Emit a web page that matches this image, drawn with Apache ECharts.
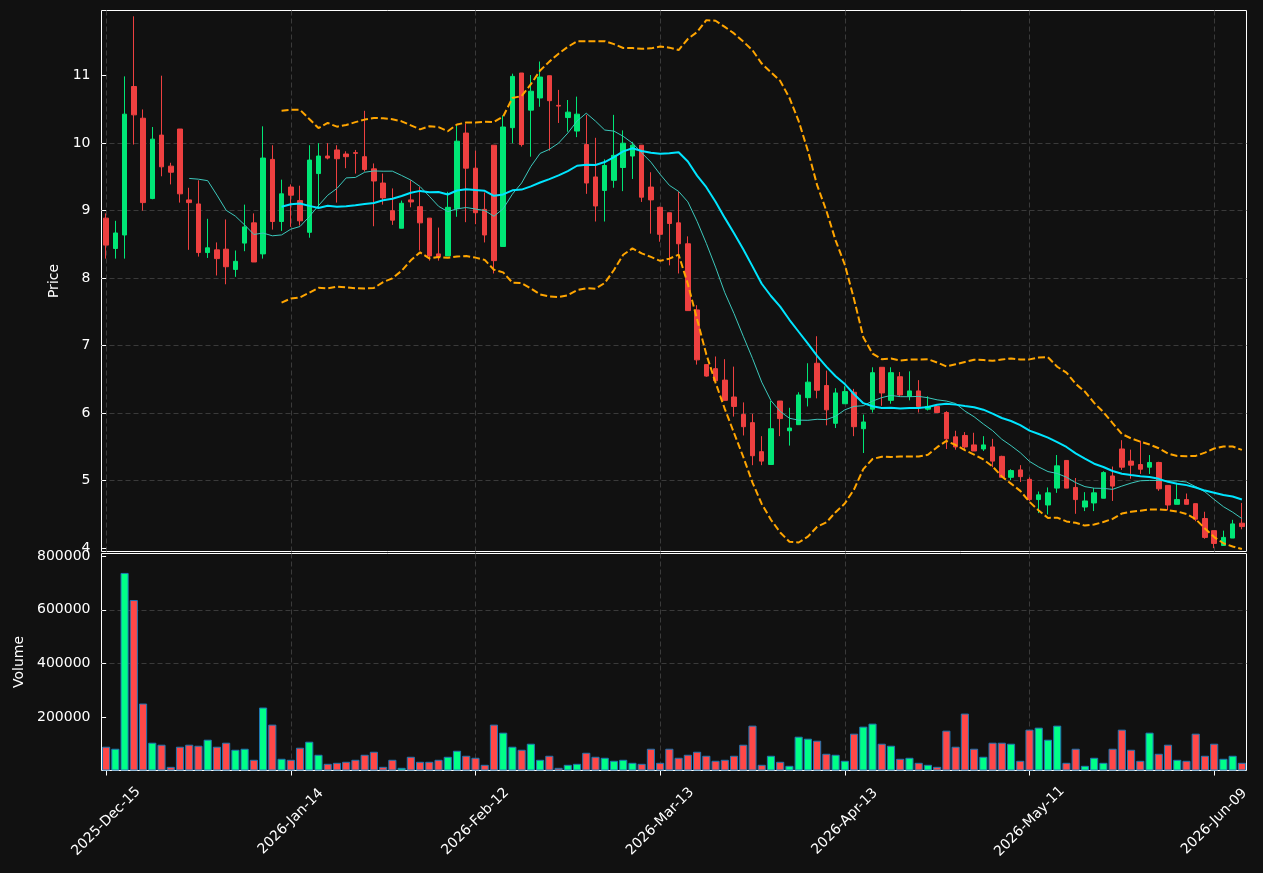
<!DOCTYPE html>
<html>
  <head>
    <meta charset="utf-8" />
    <script src="https://cdn.jsdelivr.net/npm/echarts@6/dist/echarts.min.js"></script>
    <style>
      html, body { margin: 0; background: #111111; }
    </style>
  </head>
  <body>
    <div id="main" style="width: 1263px; height: 873px"></div>

    <script type="text/javascript">
      // trading days (NYSE calendar)
      const dates = [
        "2025-Dec-15","2025-Dec-16","2025-Dec-17","2025-Dec-18","2025-Dec-19","2025-Dec-22","2025-Dec-23","2025-Dec-24","2025-Dec-26","2025-Dec-29","2025-Dec-30","2025-Dec-31",
        "2026-Jan-02","2026-Jan-05","2026-Jan-06","2026-Jan-07","2026-Jan-08","2026-Jan-09","2026-Jan-12","2026-Jan-13","2026-Jan-14","2026-Jan-15","2026-Jan-16","2026-Jan-20","2026-Jan-21","2026-Jan-22","2026-Jan-23","2026-Jan-26","2026-Jan-27","2026-Jan-28","2026-Jan-29","2026-Jan-30",
        "2026-Feb-02","2026-Feb-03","2026-Feb-04","2026-Feb-05","2026-Feb-06","2026-Feb-09","2026-Feb-10","2026-Feb-11","2026-Feb-12","2026-Feb-13","2026-Feb-17","2026-Feb-18","2026-Feb-19","2026-Feb-20","2026-Feb-23","2026-Feb-24","2026-Feb-25","2026-Feb-26","2026-Feb-27",
        "2026-Mar-02","2026-Mar-03","2026-Mar-04","2026-Mar-05","2026-Mar-06","2026-Mar-09","2026-Mar-10","2026-Mar-11","2026-Mar-12","2026-Mar-13","2026-Mar-16","2026-Mar-17","2026-Mar-18","2026-Mar-19","2026-Mar-20","2026-Mar-23","2026-Mar-24","2026-Mar-25","2026-Mar-26","2026-Mar-27","2026-Mar-30","2026-Mar-31",
        "2026-Apr-01","2026-Apr-02","2026-Apr-06","2026-Apr-07","2026-Apr-08","2026-Apr-09","2026-Apr-10","2026-Apr-13","2026-Apr-14","2026-Apr-15","2026-Apr-16","2026-Apr-17","2026-Apr-20","2026-Apr-21","2026-Apr-22","2026-Apr-23","2026-Apr-24","2026-Apr-27","2026-Apr-28","2026-Apr-29","2026-Apr-30",
        "2026-May-01","2026-May-04","2026-May-05","2026-May-06","2026-May-07","2026-May-08","2026-May-11","2026-May-12","2026-May-13","2026-May-14","2026-May-15","2026-May-18","2026-May-19","2026-May-20","2026-May-21","2026-May-22","2026-May-26","2026-May-27","2026-May-28","2026-May-29",
        "2026-Jun-01","2026-Jun-02","2026-Jun-03","2026-Jun-04","2026-Jun-05","2026-Jun-08","2026-Jun-09","2026-Jun-10","2026-Jun-11","2026-Jun-12"
      ];

      const opens = [
        8.89,8.44,8.64,10.84,10.37,9.18,10.12,9.66,10.21,9.16,
        9.10,8.38,8.42,8.43,8.13,8.52,8.82,8.36,9.76,8.84,
        9.35,9.15,8.68,9.55,9.81,9.90,9.84,9.86,9.80,9.62,
        9.41,9.00,8.74,9.16,9.06,8.89,8.36,8.33,9.03,10.15,
        9.63,9.02,9.97,8.47,10.23,11.04,10.49,10.67,11.00,10.56,
        10.38,10.18,9.98,9.50,9.30,9.45,9.64,9.81,9.97,9.35,
        9.05,8.97,8.82,8.51,7.53,6.72,6.66,6.49,6.24,5.98,
        5.86,5.43,5.24,6.18,5.74,5.83,6.23,6.74,6.41,5.85,
        6.14,6.31,5.77,6.06,6.68,6.19,6.54,6.25,6.33,6.06,
        6.10,6.01,5.65,5.67,5.53,5.47,5.50,5.36,5.05,5.16,
        5.02,4.72,4.64,4.89,5.30,4.90,4.61,4.67,4.74,5.07,
        5.47,5.29,5.24,5.20,5.27,4.93,4.65,4.72,4.66,4.44,
        4.26,4.04,4.15,4.37
      ];
      const closes = [
        8.49,8.67,10.43,10.42,9.12,10.06,9.65,9.57,9.25,9.12,
        8.38,8.45,8.29,8.17,8.25,8.76,8.24,9.78,8.84,9.25,
        9.23,8.85,9.75,9.81,9.78,9.77,9.80,9.85,9.61,9.44,
        9.19,8.86,9.11,9.13,8.82,8.33,8.32,9.05,10.03,9.63,
        8.97,8.64,8.26,10.24,10.99,9.98,10.77,10.98,10.63,10.55,
        10.46,10.43,9.41,9.07,9.67,9.82,10.00,9.97,9.20,9.16,
        8.65,8.81,8.51,7.52,6.79,6.55,6.48,6.19,6.10,5.80,
        5.37,5.29,5.77,5.92,5.78,6.27,6.46,6.34,6.05,6.30,
        6.32,5.80,5.87,6.60,6.30,6.60,6.27,6.33,6.10,6.10,
        6.01,5.62,5.50,5.50,5.44,5.53,5.29,5.05,5.15,5.06,
        4.72,4.79,4.82,5.22,4.89,4.72,4.70,4.82,5.12,4.92,
        5.20,5.23,5.17,5.27,4.88,4.64,4.72,4.65,4.43,4.16,
        4.07,4.16,4.36,4.32
      ];
      const lows = [
        8.29,8.29,8.29,9.98,9.00,9.17,9.51,9.39,9.12,8.42,
        8.32,8.30,8.04,7.91,8.02,8.40,8.24,8.29,8.72,8.70,
        8.76,8.78,8.60,9.05,9.76,9.12,9.63,9.55,9.58,8.77,
        9.09,8.79,8.74,9.05,8.41,8.26,8.26,8.33,8.91,8.83,
        8.80,8.53,8.07,8.47,10.00,9.95,9.80,10.54,9.89,10.30,
        10.17,10.09,9.25,8.84,8.84,9.34,9.29,9.47,9.13,8.66,
        8.54,8.19,8.07,7.52,6.72,6.54,6.48,6.19,5.95,5.67,
        5.23,5.23,5.24,5.66,5.52,5.83,6.10,6.22,5.82,5.78,
        6.14,5.66,5.41,6.01,6.11,6.14,6.25,6.19,6.01,6.04,
        6.01,5.47,5.46,5.44,5.44,5.44,5.20,5.05,5.01,4.98,
        4.70,4.52,4.50,4.82,4.89,4.51,4.55,4.55,4.74,4.70,
        5.16,5.03,5.10,5.10,4.85,4.56,4.65,4.65,4.40,4.14,
        4.00,4.04,4.15,4.28
      ];
      const highs = [
        8.96,8.85,10.99,11.88,10.50,10.24,11.00,9.71,10.21,9.34,
        9.45,8.88,8.53,8.87,8.41,9.09,8.96,10.25,9.97,9.46,
        9.39,9.37,9.97,10.00,10.00,9.97,9.88,9.90,10.48,9.70,
        9.55,9.33,9.15,9.45,9.35,8.89,8.75,9.28,10.26,10.29,
        9.89,9.27,9.97,10.41,11.03,11.04,11.01,11.21,11.00,10.79,
        10.64,10.69,10.42,10.08,9.76,10.42,10.19,10.02,9.97,9.57,
        9.06,8.97,9.28,8.62,7.60,6.72,6.84,6.80,6.69,6.16,
        5.99,5.66,6.18,6.18,6.08,6.31,6.74,7.14,6.63,6.37,
        6.40,6.36,5.98,6.68,6.68,6.68,6.61,6.62,6.49,6.25,
        6.10,6.03,5.74,5.72,5.71,5.66,5.62,5.37,5.17,5.23,
        5.05,4.84,4.90,5.38,5.30,5.04,4.83,4.89,5.14,5.21,
        5.60,5.46,5.59,5.38,5.28,4.93,4.95,4.81,4.66,4.54,
        4.26,4.26,4.42,4.67
      ];
      const volumes = [
        88750,81250,737500,636250,250000,103750,96250,13750,88750,96250,
        92500,115000,88750,103750,77500,81250,40000,235000,171250,43750,
        40000,85000,107500,58750,25000,28750,32500,40000,58750,70000,
        13750,40000,10000,51250,32500,32500,40000,51250,73750,55000,
        47500,21250,171250,141250,88750,77500,100000,40000,55000,10000,
        21250,25000,66250,51250,47500,36250,40000,28750,25000,81250,
        28750,81250,47500,58750,70000,55000,36250,40000,55000,96250,
        167500,21250,55000,32500,17500,126250,118750,111250,62500,58750,
        36250,137500,163750,175000,100000,92500,43750,47500,28750,21250,
        13750,148750,88750,212500,81250,51250,103750,103750,100000,36250,
        152500,160000,115000,167500,28750,81250,17500,47500,28750,81250,
        152500,77500,36250,141250,62500,96250,40000,36250,137500,55000,
        100000,43750,55000,28750
      ];

      const priceTicks = [4, 5, 6, 7, 8, 9, 10, 11];
      const volumeTicks = [200000, 400000, 600000, 800000];
      const dateTicks = [0, 20, 40, 60, 80, 100, 120];

      const UP = "#00e676";
      const DOWN = "#ee4040";
      const VOL_UP = "#00ff88";
      const VOL_DOWN = "#ff4848";
      const FONT = "DejaVu Sans";

      // rolling mean / bands over closes
      function sma(values, n) {
        return values.map((v, i) => {
          if (i < n - 1) return "-";
          let s = 0;
          for (let k = i - n + 1; k <= i; k++) s += values[k];
          return s / n;
        });
      }
      function bollinger(values, n, mult, sign) {
        const mid = sma(values, n);
        return values.map((v, i) => {
          if (i < n - 1) return "-";
          let s = 0;
          for (let k = i - n + 1; k <= i; k++) s += (values[k] - mid[i]) ** 2;
          return mid[i] + sign * mult * Math.sqrt(s / n);
        });
      }

      const n = dates.length;
      const candles = opens.map((o, i) => [o, closes[i], lows[i], highs[i]]);
      const volBars = volumes.map((v, i) => ({
        value: v,
        itemStyle: { color: closes[i] >= opens[i] ? VOL_UP : VOL_DOWN },
      }));

      const gridLine = { show: true, lineStyle: { color: "#3a3a3a", type: [5, 3], width: 1 }, showMinLine: false, showMaxLine: false };
      const isInt = (v) => Math.abs(v - Math.round(v)) < 1e-6;

      var option = {
        backgroundColor: "#111111",
        animation: false,
        textStyle: { fontFamily: FONT },
        grid: [
          { left: 101.5, right: 16.5, top: 10.5, height: 541, show: true, borderColor: "#ffffff", borderWidth: 1, backgroundColor: "#111111" },
          { left: 101.5, right: 16.5, top: 553.5, height: 217, show: true, borderColor: "#ffffff", borderWidth: 1, backgroundColor: "#111111" },
        ],
        xAxis: [
          { type: "category", gridIndex: 0, position: "bottom", data: dates, show: false },
          {
            type: "value", gridIndex: 0, position: "bottom", min: -0.5, max: n - 0.5, splitNumber: 6,
            axisLine: { show: false }, axisTick: { show: false }, axisLabel: { show: false },
            splitLine: gridLine,
          },
          { type: "category", gridIndex: 1, position: "bottom", data: dates, show: false },
          {
            type: "value", gridIndex: 1, position: "bottom", min: -0.5, max: n - 0.5, splitNumber: 6,
            axisLine: { show: false },
            axisTick: { show: true, length: 5, lineStyle: { color: "#ffffff" }, customValues: dateTicks },
            axisLabel: {
              customValues: dateTicks,
              rotate: 45, align: "center", verticalAlign: "middle", margin: 51,
              color: "#ffffff", fontSize: 14, fontFamily: FONT,
              formatter: (v) => (isInt(v) && dates[Math.round(v)] ? dates[Math.round(v)] : ""),
            },
            splitLine: gridLine,
          },
        ],
        yAxis: [
          {
            type: "value", gridIndex: 0, min: 3.951, max: 11.966, splitNumber: 8,
            axisLine: { show: false },
            axisTick: { show: true, length: 4, lineStyle: { color: "#ffffff" }, customValues: priceTicks },
            axisLabel: {
              customValues: priceTicks, color: "#ffffff", fontSize: 14, fontFamily: FONT, margin: 11,
              formatter: (v) => (isInt(v) ? String(Math.round(v)) : ""),
            },
            splitLine: gridLine,
            name: "Price", nameLocation: "middle", nameGap: 33,
            nameTextStyle: { color: "#ffffff", fontSize: 14, fontFamily: FONT },
          },
          {
            type: "value", gridIndex: 1, min: 0, max: 810000, splitNumber: 4,
            axisLine: { show: false },
            axisTick: { show: true, length: 4, lineStyle: { color: "#ffffff" }, customValues: volumeTicks },
            axisLabel: {
              customValues: volumeTicks, color: "#ffffff", fontSize: 14, fontFamily: FONT, margin: 11,
              formatter: (v) => (v > 0 && v % 200000 === 0 ? String(v) : ""),
            },
            splitLine: gridLine,
            name: "Volume", nameLocation: "middle", nameGap: 75,
            nameTextStyle: { color: "#ffffff", fontSize: 14, fontFamily: FONT },
          },
        ],
        series: [
          {
            name: "OHLC", type: "candlestick", xAxisIndex: 0, yAxisIndex: 0,
            data: candles, barWidth: 5,
            itemStyle: { color: UP, color0: DOWN, borderColor: UP, borderColor0: DOWN, borderWidth: 1 },
          },
          {
            name: "MA10", type: "line", xAxisIndex: 0, yAxisIndex: 0,
            data: sma(closes, 10), showSymbol: false, symbol: "none",
            lineStyle: { color: "#3cc8bc", width: 1 },
          },
          {
            name: "MA20", type: "line", xAxisIndex: 0, yAxisIndex: 0,
            data: sma(closes, 20), showSymbol: false, symbol: "none",
            lineStyle: { color: "#00e5ff", width: 2 },
          },
          {
            name: "Upper", type: "line", xAxisIndex: 0, yAxisIndex: 0,
            data: bollinger(closes, 20, 2, 1), showSymbol: false, symbol: "none",
            lineStyle: { color: "#ffa500", width: 2, type: [7, 3] },
          },
          {
            name: "Lower", type: "line", xAxisIndex: 0, yAxisIndex: 0,
            data: bollinger(closes, 20, 2, -1), showSymbol: false, symbol: "none",
            lineStyle: { color: "#ffa500", width: 2, type: [7, 3] },
          },
          {
            name: "Volume", type: "bar", xAxisIndex: 2, yAxisIndex: 1,
            data: volBars, barWidth: "88%",
            itemStyle: { borderColor: "#1f77b4", borderWidth: 1 },
          },
        ],
      };

      const chartContainer = document.getElementById("main");
      const myChart = echarts.init(chartContainer);
      myChart.setOption(option);
    </script>
  </body>
</html>
